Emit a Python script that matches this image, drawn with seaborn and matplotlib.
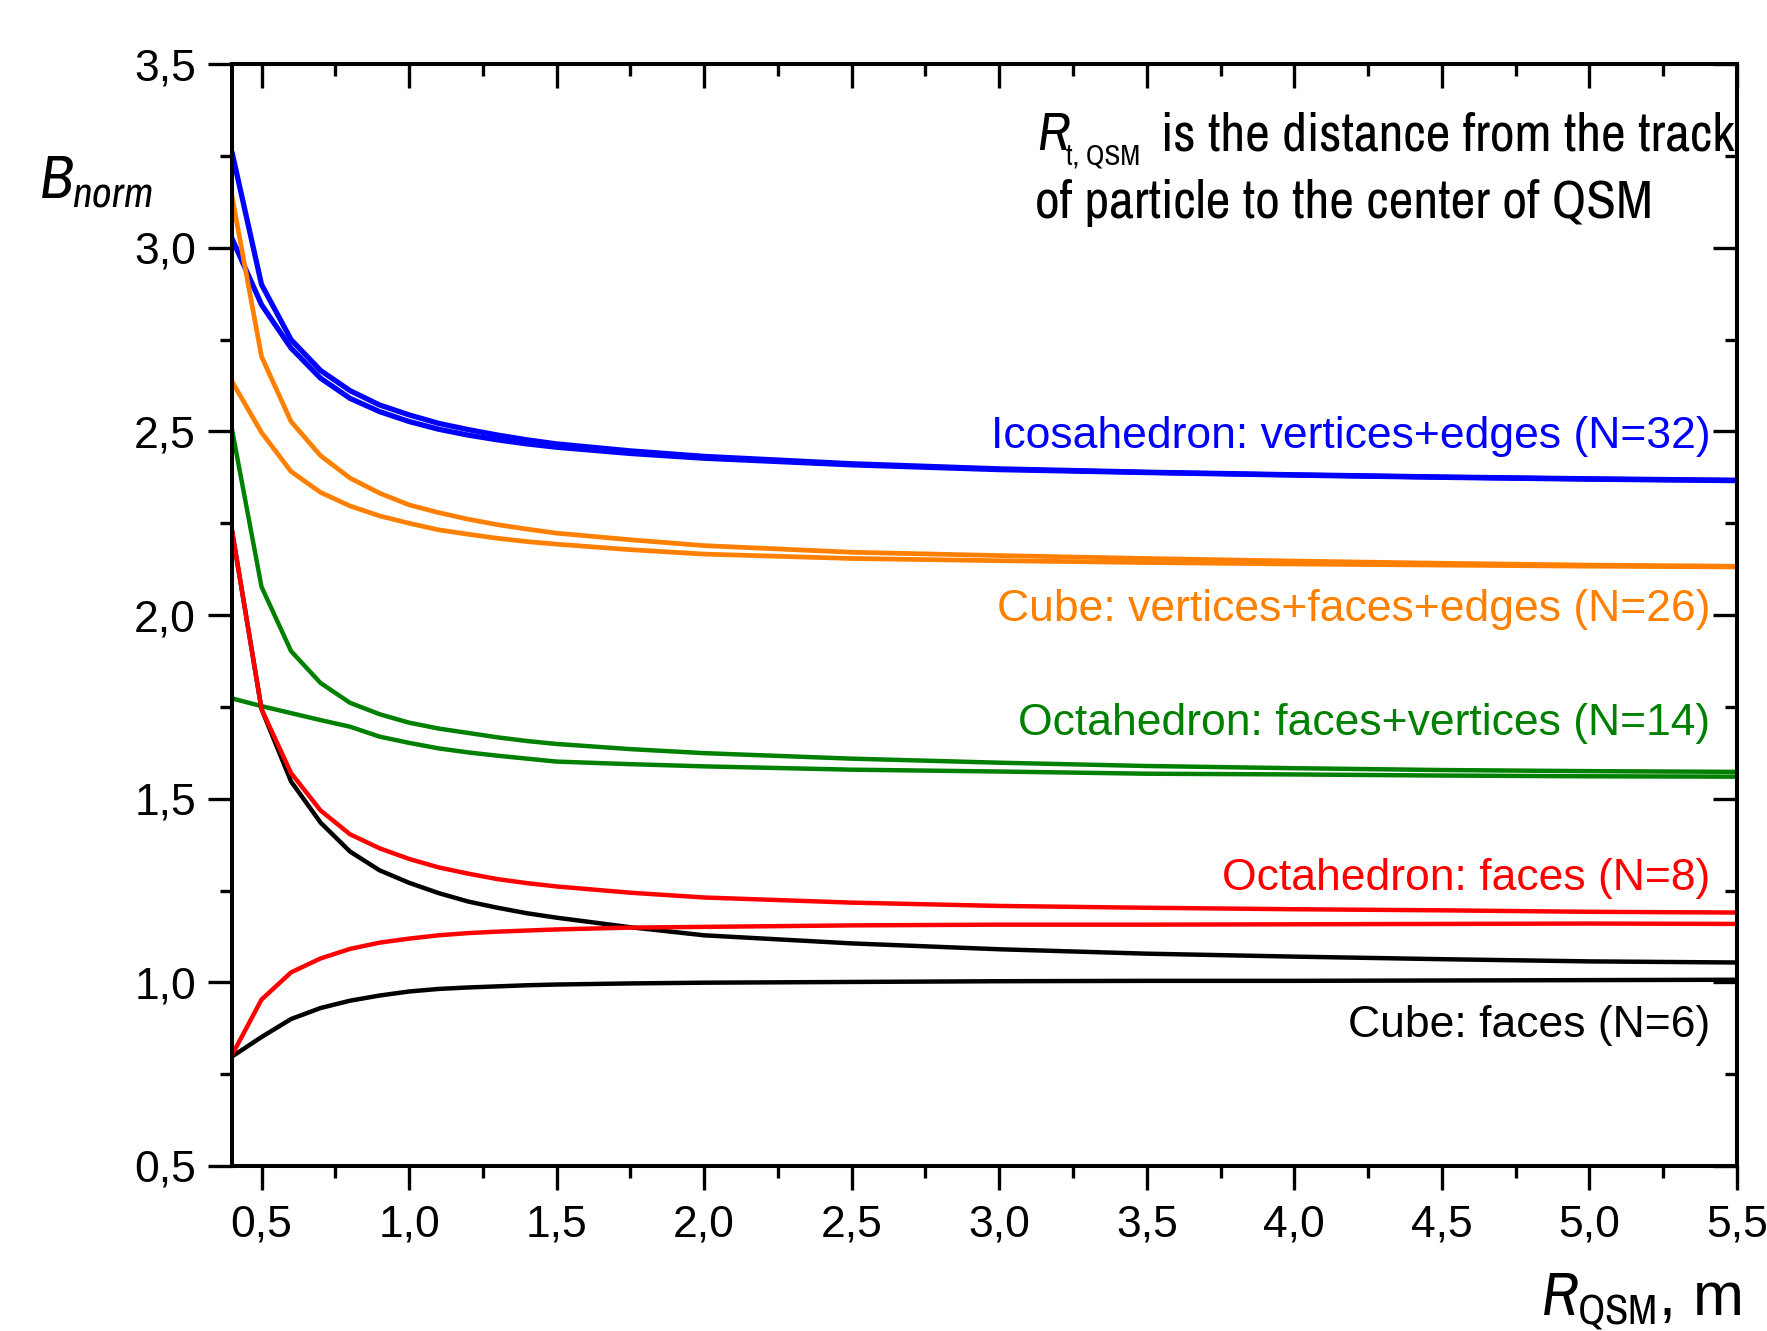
import numpy as np
import matplotlib
matplotlib.use("Agg")
import matplotlib.pyplot as plt
import seaborn as sns
from matplotlib import font_manager as fm
from matplotlib.ticker import MultipleLocator, FuncFormatter, NullFormatter

# values
r_qsm = [0.4, 0.5, 0.6, 0.7, 0.8, 0.9, 1.0, 1.1, 1.2, 1.3, 1.4, 1.5,
         1.75, 2.0, 2.5, 3.0, 3.5, 4.0, 4.5, 5.0, 5.5]

icosa_a = [3.26, 2.90, 2.750, 2.666, 2.611, 2.572, 2.545, 2.522, 2.505, 2.490, 2.477, 2.466,
           2.447, 2.432, 2.412, 2.398, 2.389, 2.382, 2.376, 2.371, 2.367]
icosa_b = [3.025, 2.845, 2.727, 2.645, 2.590, 2.554, 2.527, 2.506, 2.490, 2.477, 2.466, 2.457,
           2.440, 2.427, 2.409, 2.396, 2.388, 2.381, 2.375, 2.370, 2.366]

cube26_a = [3.14, 2.704, 2.527, 2.434, 2.373, 2.332, 2.300, 2.279, 2.261, 2.246, 2.234, 2.223,
            2.205, 2.189, 2.171, 2.162, 2.154, 2.147, 2.141, 2.136, 2.133]
cube26_b = [2.636, 2.497, 2.391, 2.334, 2.297, 2.270, 2.250, 2.232, 2.220, 2.209, 2.200, 2.193,
            2.178, 2.166, 2.154, 2.148, 2.143, 2.139, 2.136, 2.133, 2.131]

octa14_a = [2.505, 2.077, 1.902, 1.815, 1.761, 1.730, 1.707, 1.691, 1.679, 1.667, 1.657, 1.649,
            1.635, 1.624, 1.609, 1.598, 1.589, 1.583, 1.578, 1.575, 1.573]
octa14_b = [1.773, 1.752, 1.733, 1.714, 1.696, 1.669, 1.652, 1.637, 1.626, 1.617, 1.609, 1.601,
            1.594, 1.588, 1.579, 1.574, 1.568, 1.566, 1.563, 1.561, 1.560]

octa8_a = [2.23, 1.744, 1.570, 1.468, 1.403, 1.365, 1.336, 1.313, 1.296, 1.281, 1.270, 1.261,
           1.244, 1.231, 1.217, 1.208, 1.203, 1.199, 1.196, 1.192, 1.190]
octa8_b = [0.802, 0.953, 1.027, 1.065, 1.091, 1.108, 1.119, 1.128, 1.134, 1.138, 1.141, 1.144,
           1.149, 1.151, 1.155, 1.157, 1.157, 1.158, 1.159, 1.160, 1.159]

cube6_a = [2.23, 1.744, 1.547, 1.435, 1.356, 1.305, 1.271, 1.243, 1.220, 1.203, 1.188, 1.176,
           1.150, 1.128, 1.106, 1.090, 1.078, 1.070, 1.063, 1.057, 1.054]
cube6_b = [0.798, 0.851, 0.900, 0.930, 0.950, 0.964, 0.975, 0.982, 0.986, 0.989, 0.992, 0.994,
           0.997, 0.999, 1.001, 1.003, 1.004, 1.004, 1.005, 1.006, 1.007]

labels = ["Icosahedron: vertices+edges (N=32)",
          "Cube: vertices+faces+edges (N=26)",
          "Octahedron: faces+vertices (N=14)",
          "Octahedron: faces (N=8)",
          "Cube: faces (N=6)"]
label_y = [2.485, 2.015, 1.706, 1.282, 0.883]

# a narrow face for the note and the axis titles
installed = {f.name for f in fm.fontManager.ttflist}
narrow = "Liberation Sans"
for cand in ["Liberation Sans Narrow", "Archivo Narrow"]:
    if cand in installed:
        narrow = cand
        break

sns.set_theme(style="ticks")
plt.rcParams["font.family"] = ["Liberation Sans", "DejaVu Sans"]
plt.rcParams["text.color"] = "black"
plt.rcParams["mathtext.fontset"] = "custom"
plt.rcParams["mathtext.rm"] = narrow
plt.rcParams["mathtext.it"] = narrow + ":italic"

fig = plt.figure(figsize=(17.67, 13.31), dpi=100)
fig.patch.set_facecolor("white")
ax = fig.add_axes([0.1313, 0.124, 0.8517, 0.8278])
ax.set_facecolor("white")

series = [
    (icosa_a, "#0000FF", 3.8), (icosa_b, "#0000FF", 3.8),
    (cube26_a, "#FF8000", 3.4), (cube26_b, "#FF8000", 3.4),
    (octa14_a, "#008000", 3.2), (octa14_b, "#008000", 3.2),
    (cube6_a, "#000000", 3.2), (cube6_b, "#000000", 3.2),
    (octa8_a, "#FF0000", 3.2), (octa8_b, "#FF0000", 3.2),
]
for vals, col, lw in series:
    sns.lineplot(x=r_qsm, y=vals, color=col, linewidth=lw, ax=ax)

label_colors = ["#0000FF", "#FF8000", "#008000", "#FF0000", "#000000"]
for txt, yy, col in zip(labels, label_y, label_colors):
    ax.text(5.41, yy, txt, color=col, fontsize=32, ha="right", va="center")

ax.set_xlim(0.4, 5.5)
ax.set_ylim(0.5, 3.5)

comma = FuncFormatter(lambda v, p: f"{v:.1f}".replace(".", ","))
ax.xaxis.set_major_locator(MultipleLocator(0.5))
ax.xaxis.set_minor_locator(MultipleLocator(0.25))
ax.yaxis.set_major_locator(MultipleLocator(0.5))
ax.yaxis.set_minor_locator(MultipleLocator(0.25))
ax.xaxis.set_major_formatter(comma)
ax.yaxis.set_major_formatter(comma)
ax.tick_params(which="major", direction="out", length=17, width=2.4,
               labelsize=32, color="black", labelcolor="black")
ax.tick_params(which="minor", direction="out", length=8.5, width=2.4, color="black")
ax.tick_params(axis="x", which="major", pad=11)
ax.tick_params(axis="y", which="major", pad=9)

for side in ["left", "bottom", "top", "right"]:
    ax.spines[side].set_visible(True)
    ax.spines[side].set_linewidth(2.9)
    ax.spines[side].set_color("black")

# mirrored ticks pointing inward on top and right
top = ax.secondary_xaxis("top")
right = ax.secondary_yaxis("right")
for sec, axis in [(top, top.xaxis), (right, right.yaxis)]:
    axis.set_major_locator(MultipleLocator(0.5))
    axis.set_minor_locator(MultipleLocator(0.25))
    axis.set_major_formatter(NullFormatter())
    sec.tick_params(which="major", direction="in", length=17, width=2.4, color="black")
    sec.tick_params(which="minor", direction="in", length=8.5, width=2.4, color="black")
    for sp in sec.spines.values():
        sp.set_linewidth(2.9)

fig.text(0.0223, 0.851, r"$B_{norm}$", fontsize=44, ha="left", va="baseline", color="black")
fig.text(0.9855, 0.0113, r"$R_{\rm QSM}$, m", fontsize=44, ha="right", va="baseline",
         color="black")

# note in the upper right: R with a small subscript, then the sentence
fig.text(0.587, 0.887, "R", fontsize=39, style="italic", ha="left", va="baseline",
         color="black", family=narrow)
fig.text(0.6035, 0.8765, "t, QSM", fontsize=21, ha="left", va="baseline",
         color="black", family=narrow)
fig.text(0.657, 0.887, "is the distance from the track",
         fontsize=39, ha="left", va="baseline", color="black", family=narrow)
fig.text(0.5855, 0.836, "of particle to the center of QSM",
         fontsize=39, ha="left", va="baseline", color="black", family=narrow)

fig.savefig("out.png", dpi=100, facecolor="white")
